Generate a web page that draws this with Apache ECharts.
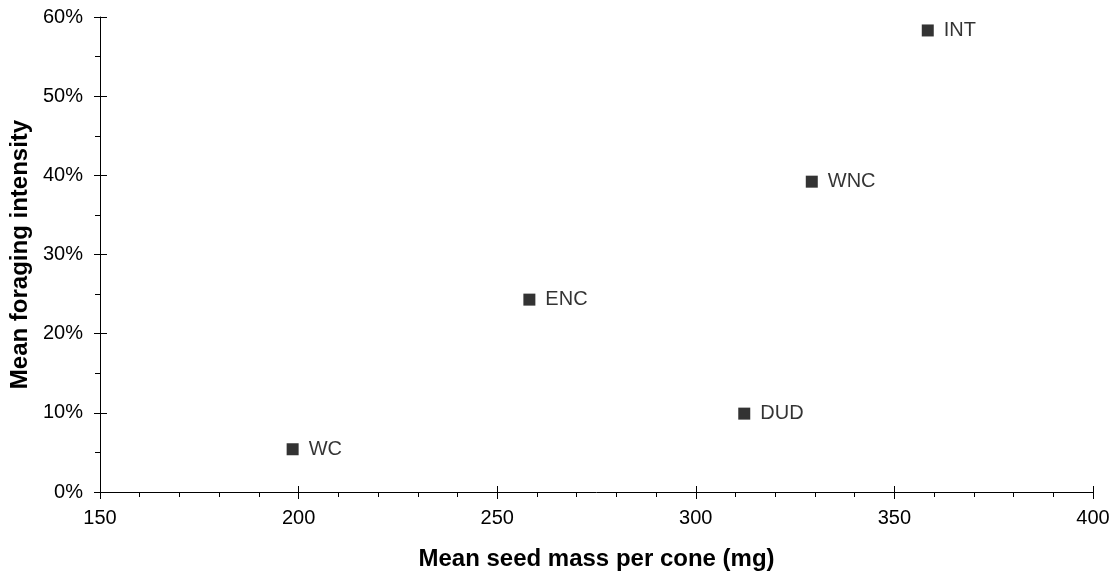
<!DOCTYPE html>
<html>
<head>
<meta charset="utf-8">
<script src="https://cdn.jsdelivr.net/npm/echarts@6/dist/echarts.min.js"></script>
<style>
html,body{margin:0;padding:0;background:#fff;}
#chart{width:1115px;height:576px;}
</style>
</head>
<body>
<div id="chart"></div>
<script>
const siteNames = ['WC', 'ENC', 'DUD', 'WNC', 'INT'];
const seedMass = [198.5, 258.1, 312.2, 329.2, 358.4];      // mg
const foragingIntensity = [5.4, 24.3, 9.9, 39.2, 58.3];    // %
const xTicks = { min: 150, max: 400, interval: 50 };
const yTicks = { min: 0, max: 60, interval: 10 };

const FONT = "'Liberation Sans', Arial, sans-serif";
const chart = echarts.init(document.getElementById('chart'), null, { renderer: 'canvas' });

const points = siteNames.map((n, i) => ({ name: n, value: [seedMass[i], foragingIntensity[i]] }));

const option = {
  backgroundColor: '#fff',
  animation: false,
  grid: { left: 100, right: 22, top: 17, bottom: 82, containLabel: false },
  xAxis: [
    {
      type: 'value', position: 'bottom', min: xTicks.min, max: xTicks.max, interval: xTicks.interval,
      axisLine: { show: true, onZero: false, lineStyle: { color: '#000', width: 1 } },
      axisTick: { show: true, inside: false, length: 7, lineStyle: { color: '#000' } },
      minorTick: { show: true, splitNumber: 5, length: 5, lineStyle: { color: '#000' } },
      splitLine: { show: false },
      axisLabel: { color: '#000', fontSize: 20, fontFamily: FONT, margin: 16 },
      name: 'Mean seed mass per cone (mg)', nameLocation: 'middle', nameGap: 55,
      nameTextStyle: { color: '#000', fontSize: 24, fontWeight: 'bold', fontFamily: FONT }
    },
    {
      type: 'value', position: 'bottom', min: xTicks.min, max: xTicks.max, interval: xTicks.interval,
      axisLine: { show: false, onZero: false },
      axisTick: { show: true, inside: true, length: 6, lineStyle: { color: '#000' } },
      splitLine: { show: false }, axisLabel: { show: false }
    }
  ],
  yAxis: [
    {
      type: 'value', position: 'left', min: yTicks.min, max: yTicks.max, interval: yTicks.interval,
      axisLine: { show: true, onZero: false, lineStyle: { color: '#000', width: 1 } },
      axisTick: { show: true, inside: false, length: 6, lineStyle: { color: '#000' } },
      minorTick: { show: true, splitNumber: 2, length: 5, lineStyle: { color: '#000' } },
      splitLine: { show: false },
      axisLabel: { color: '#000', fontSize: 20, fontFamily: FONT, margin: 17, formatter: '{value}%' },
      name: 'Mean foraging intensity', nameLocation: 'middle', nameGap: 65, nameRotate: 90,
      nameTextStyle: { color: '#000', fontSize: 24, fontWeight: 'bold', fontFamily: FONT }
    },
    {
      type: 'value', position: 'left', min: yTicks.min, max: yTicks.max, interval: yTicks.interval,
      axisLine: { show: false, onZero: false },
      axisTick: { show: true, inside: true, length: 7, lineStyle: { color: '#000' } },
      splitLine: { show: false }, axisLabel: { show: false }
    }
  ],
  series: [
    {
      type: 'scatter', xAxisIndex: 0, yAxisIndex: 0,
      symbol: 'rect', symbolSize: 12,
      itemStyle: { color: '#000' },
      label: {
        show: true, position: 'right', distance: 10, formatter: '{b}',
        color: '#000', fontSize: 20, fontFamily: FONT
      },
      data: points
    }
  ]
};
chart.setOption(option);
</script>
</body>
</html>
